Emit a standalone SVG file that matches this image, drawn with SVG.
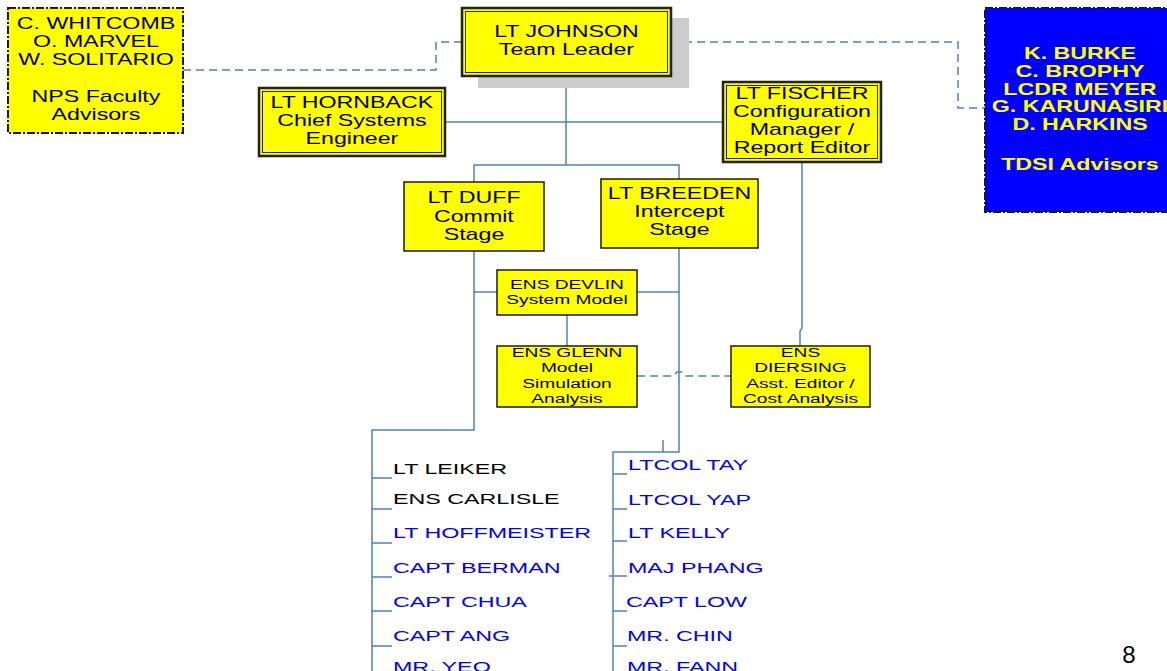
<svg xmlns="http://www.w3.org/2000/svg" width="1167" height="671" viewBox="0 0 1167 671">
<style>
text { font-family: "Liberation Sans", Arial, sans-serif; }
.c { text-anchor: middle; transform-box: fill-box; transform-origin: center; transform: scaleX(1.45); font-size: 16px; fill: #000; }
.s { text-anchor: middle; transform-box: fill-box; transform-origin: center; transform: scaleX(1.42); font-size: 13.5px; fill: #000; }
.l { text-anchor: start; transform-box: fill-box; transform-origin: left center; transform: scaleX(1.5); font-size: 15.5px; fill: #0000ff; }
.k { fill: #000; }
.y { fill: #ffff00; font-weight: bold; }
.box { fill: #ffff00; stroke: #1a1a1a; stroke-width: 1.5; }
.outer { fill: #ffff00; stroke: #222; stroke-width: 2.5; }
.inner { fill: none; stroke: #222; stroke-width: 1; }
.dash { stroke: #1a1a1a; stroke-width: 2; stroke-dasharray: 8 2 2 2; }
.con { fill: none; stroke: #4f81bd; stroke-width: 1.5; }
.dcon { fill: none; stroke: #4f81bd; stroke-width: 1.5; stroke-dasharray: 8 5; }
</style>

<g id="connectors">
  <path class="dcon" d="M183 70 H436 V42 H462"/>
  <path class="dcon" d="M671 42 H958 V108 H985"/>
  <path class="con" d="M566 76 V165"/>
  <path class="con" d="M445 122 H723"/>
  <path class="con" d="M474 182 V165 H679 V179"/>
  <path class="con" d="M802 162 V328 L800 331 V346"/>
  <path class="con" d="M474 251 V430 H372 V671"/>
  <path class="con" d="M679 248 V452 H613 V671"/>
  <path class="con" d="M663 440 V452"/>
  <path class="con" d="M474 292 H497"/>
  <path class="con" d="M637 292 H679"/>
  <path class="con" d="M567 315 V346"/>
  <path class="dcon" d="M637 376 H673 L677 372 H683 L686 376 H731"/>
  <path class="con" d="M372 478 H392 M372 509 H392 M372 543 H392 M372 577 H392 M372 611 H392 M372 646 H392"/>
  <path class="con" d="M613 474 H627 M613 509 H627 M613 541 H627 M609 576 H627 M613 611 H627 M613 646 H627"/>
</g>

<g id="nps">
  <rect class="box dash" x="8" y="8" width="175" height="125"/>
  <text class="c" x="96" y="29">C. WHITCOMB</text>
  <text class="c" x="96" y="47">O. MARVEL</text>
  <text class="c" x="96" y="65">W. SOLITARIO</text>
  <text class="c" x="96" y="102">NPS Faculty</text>
  <text class="c" x="96" y="120">Advisors</text>
</g>

<g id="johnson">
  <rect x="478" y="18" width="211" height="70" fill="#cccccc"/>
  <rect class="outer" x="462" y="8" width="209" height="68"/>
  <rect class="inner" x="465.5" y="11.5" width="202" height="61"/>
  <text class="c" x="566.5" y="37">LT JOHNSON</text>
  <text class="c" x="566.5" y="55">Team Leader</text>
</g>

<g id="tdsi">
  <rect class="dash" fill="#0000ff" x="985" y="8" width="200" height="204"/>
  <text class="c y" x="1080" y="59">K. BURKE</text>
  <text class="c y" x="1080" y="77">C. BROPHY</text>
  <text class="c y" x="1080" y="95">LCDR MEYER</text>
  <text class="c y" x="1080" y="112">G. KARUNASIRI</text>
  <text class="c y" x="1080" y="130">D. HARKINS</text>
  <text class="c y" x="1080" y="170">TDSI Advisors</text>
</g>

<g id="hornback">
  <rect class="outer" x="259" y="88" width="186" height="68"/>
  <rect class="inner" x="262.5" y="91.5" width="179" height="61"/>
  <text class="c" x="352" y="108">LT HORNBACK</text>
  <text class="c" x="352" y="126">Chief Systems</text>
  <text class="c" x="352" y="144">Engineer</text>
</g>

<g id="fischer">
  <rect class="outer" x="723" y="82" width="158" height="80"/>
  <rect class="inner" x="726.5" y="85.5" width="151" height="73"/>
  <text class="c" x="802" y="99">LT FISCHER</text>
  <text class="c" x="802" y="117">Configuration</text>
  <text class="c" x="802" y="135">Manager /</text>
  <text class="c" x="802" y="153">Report Editor</text>
</g>

<g id="duff">
  <rect class="box" x="404" y="182" width="140" height="69"/>
  <text class="c" x="474" y="203">LT DUFF</text>
  <text class="c" x="474" y="222">Commit</text>
  <text class="c" x="474" y="240">Stage</text>
</g>

<g id="breeden">
  <rect class="box" x="601" y="179" width="157" height="69"/>
  <text class="c" x="679.5" y="199">LT BREEDEN</text>
  <text class="c" x="679.5" y="217">Intercept</text>
  <text class="c" x="679.5" y="235">Stage</text>
</g>

<g id="devlin">
  <rect class="box" x="497" y="270" width="140" height="45"/>
  <text class="s" x="567" y="289">ENS DEVLIN</text>
  <text class="s" x="567" y="304">System Model</text>
</g>

<g id="glenn">
  <rect class="box" x="497" y="346" width="140" height="61"/>
  <text class="s" x="567" y="357">ENS GLENN</text>
  <text class="s" x="567" y="372">Model</text>
  <text class="s" x="567" y="388">Simulation</text>
  <text class="s" x="567" y="403">Analysis</text>
</g>

<g id="diersing">
  <rect class="box" x="731" y="346" width="139" height="61"/>
  <text class="s" x="800.5" y="357">ENS</text>
  <text class="s" x="800.5" y="372">DIERSING</text>
  <text class="s" x="800.5" y="388">Asst. Editor /</text>
  <text class="s" x="800.5" y="403">Cost Analysis</text>
</g>

<g id="commit-team">
  <text class="l k" x="393" y="474">LT LEIKER</text>
  <text class="l k" x="393" y="504">ENS CARLISLE</text>
  <text class="l" x="393" y="538">LT HOFFMEISTER</text>
  <text class="l" x="393" y="573">CAPT BERMAN</text>
  <text class="l" x="393" y="607">CAPT CHUA</text>
  <text class="l" x="393" y="641">CAPT ANG</text>
  <text class="l" x="393" y="672">MR. YEO</text>
</g>

<g id="intercept-team">
  <text class="l" x="628" y="470">LTCOL TAY</text>
  <text class="l" x="628" y="505">LTCOL YAP</text>
  <text class="l" x="628" y="538">LT KELLY</text>
  <text class="l" x="628" y="573">MAJ PHANG</text>
  <text class="l" x="626" y="607">CAPT LOW</text>
  <text class="l" x="627" y="641">MR. CHIN</text>
  <text class="l" x="627" y="672">MR. FANN</text>
</g>

<text x="1129" y="663" font-size="24" text-anchor="middle" fill="#000">8</text>
</svg>
